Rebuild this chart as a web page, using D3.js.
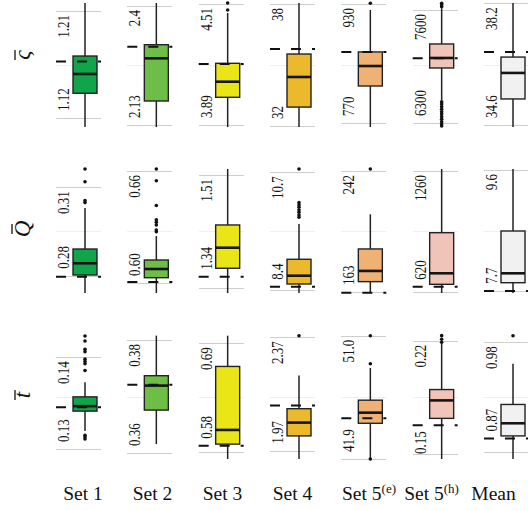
<html>
    <head>
        <style>
            body {
                margin: 0;
                background-color: white;
            }
            svg {
                display: block;
            }
            .grid {
                stroke: #cdcdcd;
                stroke-width: 1;
                shape-rendering: crispEdges;
            }
            .grid-mid {
                stroke: #efefef;
                stroke-width: 1;
                shape-rendering: crispEdges;
            }
            .tick-label {
                font-family: "Liberation Serif", "Times New Roman", serif;
                font-size: 13px;
                fill: #151515;
            }
            .set-label {
                font-family: "Liberation Serif", "Times New Roman", serif;
                font-size: 19.5px;
                fill: #111;
            }
            .row-label {
                font-family: "Liberation Serif", "Times New Roman", serif;
                font-style: italic;
                font-size: 23px;
                fill: #111;
            }
        </style>
    </head>
    <body>
        <svg width="528" height="510"></svg>
    </body>
    <script src="https://d3js.org/d3.v7.min.js"></script>
    <script>
        // columns
        var setNames = ["Set 1", "Set 2", "Set 3", "Set 4", "Set 5", "Set 5", "Mean"];
        var setSups = ["", "", "", "", "(e)", "(h)", ""];
        var setColors = ["#10a54b", "#6ebd46", "#e9e517", "#ebb92b", "#f0b274", "#f1c4b9", "#f1f1f1"];

        // rows
        var metricNames = ["\u03c2", "Q", "t"];

        // sigma bar row
        var sigmaDomain = [[1.1124, 1.2167], [2.1255, 2.4068], [3.8798, 4.5151], [31.95, 38.05], [764.6, 931.3], [6254, 7680], [34.54, 38.21]];
        var sigmaTicks = [[1.12, 1.21], [2.13, 2.4], [3.89, 4.51], [32, 38], [770, 930], [6300, 7600], [34.6, 38.2]];
        var sigmaTickLabels = [["1.12", "1.21"], ["2.13", "2.4"], ["3.89", "4.51"], ["32", "38"], ["770", "930"], ["6300", "7600"], ["34.6", "38.2"]];
        // [whisker low, q1, median, q3, whisker high]
        var sigmaBoxes = [
            [1.100, 1.1408, 1.1570, 1.1721, 1.230],
            [2.12, 2.1845, 2.2813, 2.3122, 2.41],
            [3.87, 4.0319, 4.1119, 4.2062, 4.464],
            [31.9, 32.93, 34.41, 35.54, 38.1],
            [764, 819.7, 846.6, 865.5, 921.9],
            [6565, 6932.7, 7047.8, 7208.8, 7620],
            [34.5, 35.37, 36.14, 36.61, 38.25]
        ];
        var sigmaRef = [1.1674, 2.3077, 4.2026, 35.79, 865.5, 7044, 36.76];
        var sigmaOutliers = [
            [],
            [],
            [4.479, 4.515],
            [],
            [931],
            [7676, 7657, 7638, 6545, 6519, 6488, 6458, 6430, 6404, 6373, 6343, 6315, 6289, 6265],
            []
        ];

        // Q bar row
        var qDomain = [[0.27413, 0.31621], [0.59464, 0.66107], [1.3320, 1.5190], [8.341, 10.764], [162.3, 243.3], [614.7, 1270.6], [7.664, 9.616]];
        var qTicks = [[0.28, 0.31], [0.60, 0.66], [1.34, 1.51], [8.4, 10.7], [163, 242], [620, 1260], [7.7, 9.6]];
        var qTickLabels = [["0.28", "0.31"], ["0.60", "0.66"], ["1.34", "1.51"], ["8.4", "10.7"], ["163", "242"], ["620", "1260"], ["7.7", "9.6"]];
        var qBoxes = [
            [0.2735, 0.28024, 0.28421, 0.28906, 0.30298],
            [0.594, 0.60284, 0.6075, 0.61232, 0.62518],
            [1.33, 1.3693, 1.4003, 1.4346, 1.52],
            [8.33, 8.517, 8.679, 9.0, 9.690],
            [162, 169.72, 176.71, 191.07, 213.7],
            [614, 660.7, 718.9, 933.7, 1272],
            [7.66, 7.826, 7.974, 8.640, 9.62]
        ];
        var qRef = [0.27966, 0.60054, 1.3566, 8.464, 162.54, 648, 7.695];
        var qOutliers = [
            [0.3048, 0.3055, 0.3119, 0.3162],
            [0.6275, 0.6284, 0.6311, 0.6325, 0.6338, 0.6415, 0.6548, 0.6611],
            [],
            [9.821, 9.866, 9.918, 9.963, 10.016, 10.061, 10.106, 10.764],
            [243.3],
            [],
            []
        ];

        // t bar row
        var tDomain = [[0.12892, 0.14241], [0.35895, 0.38088], [0.5733, 0.6983], [1.941, 2.378], [41.9, 51.05], [0.1469, 0.2235], [0.8627, 0.9873]];
        var tTicks = [[0.13, 0.14], [0.36, 0.38], [0.58, 0.69], [1.97, 2.37], [41.9, 51.0], [0.15, 0.22], [0.87, 0.98]];
        var tTickLabels = [["0.13", "0.14"], ["0.36", "0.38"], ["0.58", "0.69"], ["1.97", "2.37"], ["41.9", "51.0"], ["0.15", "0.22"], ["0.87", "0.98"]];
        var tBoxes = [
            [0.13197, 0.13413, 0.13467, 0.13568, 0.13726],
            [0.36158, 0.36760, 0.37193, 0.37368, 0.38077],
            [0.5733, 0.5883, 0.6026, 0.6666, 0.6976],
            [1.94, 2.0224, 2.0693, 2.1183, 2.2357],
            [41.97, 44.536, 45.319, 46.241, 48.613],
            [0.146, 0.1720, 0.1831, 0.1898, 0.2184],
            [0.862, 0.8859, 0.8986, 0.9175, 0.9584]
        ];
        var tRef = [0.13456, 0.3721, 0.5866, 2.1298, 44.902, 0.1678, 0.8834];
        var tOutliers = [
            [0.1311, 0.1313, 0.1315, 0.13855, 0.13928, 0.13952, 0.13978, 0.14060, 0.14086, 0.14176, 0.14230],
            [],
            [],
            [2.3756],
            [41.9, 48.928, 51.0],
            [0.2190, 0.2209, 0.2231],
            [0.9866]
        ];

        var rows = [
            { name: metricNames[0], domain: sigmaDomain, ticks: sigmaTicks, labels: sigmaTickLabels, boxes: sigmaBoxes, ref: sigmaRef, outliers: sigmaOutliers },
            { name: metricNames[1], domain: qDomain, ticks: qTicks, labels: qTickLabels, boxes: qBoxes, ref: qRef, outliers: qOutliers },
            { name: metricNames[2], domain: tDomain, ticks: tTicks, labels: tTickLabels, boxes: tBoxes, ref: tRef, outliers: tOutliers }
        ];

        var svg = d3.select("svg");

        var rowTop = 3, rowHeight = 124, rowStep = 166,
            cellLeft = 29, cellRight = 16, boxHalf = 12;

        var xScale = d3.scalePoint().domain(d3.range(setNames.length)).range([85, 513]);

        // the set names sit in a table row below the panels, not exactly under each box
        var setLabelX = [83, 152.5, 222.5, 292.5, 369, 431.5, 493.5];

        rows.forEach(function(row, r) {
            var top = rowTop + r * rowStep,
                bottom = top + rowHeight;

            // row label, rotated with an overbar
            var lab = svg.append("g")
                .attr("transform", "translate(" + 30 + "," + ((top + bottom) / 2 - (r == 0 ? 10 : 2)) + ") rotate(-90)");
            lab.append("text")
                .attr("class", "row-label")
                .attr("text-anchor", "middle")
                .text(row.name);
            lab.append("line")
                .attr("x1", -5).attr("x2", 5)
                .attr("y1", r == 1 ? -18 : -15).attr("y2", r == 1 ? -18 : -15)
                .attr("stroke", "#111")
                .attr("stroke-width", 1.3);

            setNames.forEach(function(s, c) {
                var cx = xScale(c),
                    x0 = cx - cellLeft,
                    x1 = cx + cellRight;

                var y = d3.scaleLinear().domain(row.domain[c]).range([bottom, top]).clamp(true);
                var refY = y(row.ref[c]);
                var g = svg.append("g");

                // faint middle gridline
                var mid = (row.domain[c][0] + row.domain[c][1]) / 2;
                g.append("line")
                    .attr("class", "grid-mid")
                    .attr("x1", x0).attr("x2", x1)
                    .attr("y1", Math.round(y(mid)) + 0.5).attr("y2", Math.round(y(mid)) + 0.5);

                g.selectAll("line.grid")
                    .data(row.ticks[c])
                    .enter()
                    .append("line")
                    .attr("class", "grid")
                    .attr("x1", x0).attr("x2", x1)
                    .attr("y1", function(d) { return Math.round(y(d)) + 0.5; })
                    .attr("y2", function(d) { return Math.round(y(d)) + 0.5; });

                // tick labels, rotated; the lower one steps aside from the reference dash
                g.selectAll("text.tick-label")
                    .data(row.ticks[c])
                    .enter()
                    .append("text")
                    .attr("class", "tick-label")
                    .attr("text-anchor", function(d, i) { return i == 0 ? "start" : "end"; })
                    .text(function(d, i) { return row.labels[c][i]; })
                    .each(function(d, i) {
                        var ty;
                        if (i == 1) {
                            ty = y(d) + 4;
                        } else {
                            var len = this.getComputedTextLength();
                            ty = y(d) - 7;
                            if (refY > ty - len - 3 && refY < ty + 5) {
                                ty = y(d);
                                if (refY > ty - len - 4) ty = refY - 7;
                            }
                        }
                        d3.select(this).attr("transform",
                            "translate(" + (cx - 16) + "," + ty + ") scale(1.33,1) rotate(-90)");
                    });

                var b = row.boxes[c];

                // whiskers
                g.append("line")
                    .attr("x1", cx).attr("x2", cx)
                    .attr("y1", y(b[0])).attr("y2", y(b[4]))
                    .attr("stroke", "#222")
                    .attr("stroke-width", 1.5);

                // box
                g.append("rect")
                    .attr("x", cx - boxHalf)
                    .attr("width", boxHalf * 2)
                    .attr("y", y(b[3]))
                    .attr("height", y(b[1]) - y(b[3]))
                    .attr("fill", setColors[c])
                    .attr("stroke", "#222")
                    .attr("stroke-width", 1.4);

                // median
                g.append("line")
                    .attr("x1", cx - boxHalf).attr("x2", cx + boxHalf)
                    .attr("y1", y(b[2])).attr("y2", y(b[2]))
                    .attr("stroke", "#151515")
                    .attr("stroke-width", 2.6);

                g.selectAll("circle")
                    .data(row.outliers[c])
                    .enter()
                    .append("circle")
                    .attr("cx", cx)
                    .attr("cy", function(d) { return y(d); })
                    .attr("r", 1.8)
                    .attr("fill", "#111");

                // dashed reference line
                g.append("line")
                    .attr("x1", x0).attr("x2", x1)
                    .attr("y1", refY).attr("y2", refY)
                    .attr("stroke", "#111")
                    .attr("stroke-width", 2)
                    .attr("stroke-dasharray", "10,11");
            });
        });

        // column labels
        var setText = svg.selectAll("text.set-label")
            .data(setNames)
            .enter()
            .append("text")
            .attr("class", "set-label")
            .attr("text-anchor", "middle")
            .attr("x", function(d, i) { return setLabelX[i]; })
            .attr("y", 500);

        setText.append("tspan").text(function(d) { return d; });
        setText.append("tspan")
            .attr("dy", -7)
            .attr("font-size", "13px")
            .text(function(d, i) { return setSups[i]; });
    </script>
</html>
